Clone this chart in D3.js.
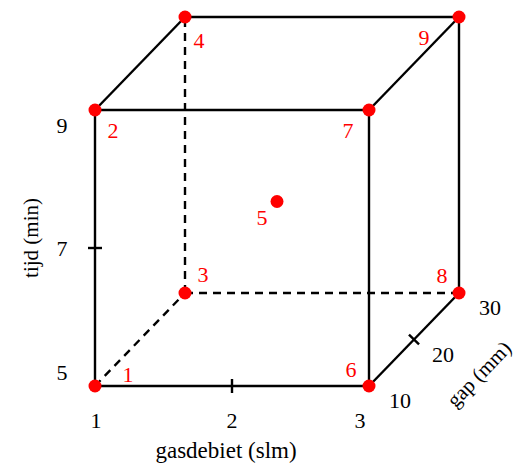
<!DOCTYPE html>
<html>
<head>
<meta charset="utf-8">
<script src="https://cdn.jsdelivr.net/npm/d3@7"></script>
<style>
	body { margin: 0; background: #fff; }
	text { font-family: "Liberation Serif", "DejaVu Serif", serif; }
</style>
</head>
<body>
<div id="chart"></div>
<script>
// design points (run number, gas flow, time, gap)
const runs = ["1", "2", "3", "4", "5", "6", "7", "8", "9"]
const gasdebiet = [1, 1, 1, 1, 2, 3, 3, 3, 3]
const tijd = [5, 9, 5, 9, 7, 5, 9, 5, 9]
const gap = [10, 10, 30, 30, 20, 10, 10, 30, 30]

const gasTicks = [1, 2, 3]
const tijdTicks = [5, 7, 9]
const gapTicks = [10, 20, 30]

// cube edges as pairs of corner indices into the arrays above
const solidEdges = [[0, 1], [0, 5], [1, 6], [5, 6], [1, 3], [3, 8], [6, 8], [8, 7], [5, 7]]
const dashedEdges = [[0, 2], [2, 3], [2, 7]]

const params = { width: 519, height: 466 }

const svg = d3.select("#chart")
	.append("svg")
	.attr("width", params.width)
	.attr("height", params.height)

const xScale = d3.scaleLinear().domain([1, 3]).range([95, 369])
const yScale = d3.scaleLinear().domain([5, 9]).range([386, 110])
// gap goes into the page: oblique projection
const depth = d3.scaleLinear().domain([10, 30]).range([0, 1])
const depthX = 90, depthY = -93

const proj = (g, t, p) => [xScale(g) + depth(p) * depthX, yScale(t) + depth(p) * depthY]
const corner = i => proj(gasdebiet[i], tijd[i], gap[i])
const sw = 2.4

// edges
svg.append("g")
	.selectAll("line")
	.data(solidEdges)
	.join("line")
	.attr("x1", d => corner(d[0])[0])
	.attr("y1", d => corner(d[0])[1])
	.attr("x2", d => corner(d[1])[0])
	.attr("y2", d => corner(d[1])[1])
	.attr("stroke", "black")
	.attr("stroke-width", sw)

svg.append("g")
	.selectAll("line")
	.data(dashedEdges)
	.join("line")
	.attr("x1", d => corner(d[0])[0])
	.attr("y1", d => corner(d[0])[1])
	.attr("x2", d => corner(d[1])[0])
	.attr("y2", d => corner(d[1])[1])
	.attr("stroke", "black")
	.attr("stroke-width", sw)
	.attr("stroke-dasharray", "8,6")

// middle ticks on each axis
const tk = 7
const [gx, gy] = proj(gasTicks[1], 5, 10)
svg.append("line").attr("x1", gx).attr("x2", gx).attr("y1", gy - tk).attr("y2", gy + tk)
	.attr("stroke", "black").attr("stroke-width", sw)
const [tx, ty] = proj(1, tijdTicks[1], 10)
svg.append("line").attr("x1", tx - tk).attr("x2", tx + tk).attr("y1", ty).attr("y2", ty)
	.attr("stroke", "black").attr("stroke-width", sw)
const [px, py] = proj(3, 5, gapTicks[1])
const len = Math.hypot(depthX, depthY)
const nx = -depthY / len * tk, ny = depthX / len * tk
svg.append("line").attr("x1", px - nx).attr("x2", px + nx).attr("y1", py - ny).attr("y2", py + ny)
	.attr("stroke", "black").attr("stroke-width", sw)

// tick labels
const fs = 22
svg.append("g")
	.selectAll("text")
	.data(gasTicks)
	.join("text")
	.attr("x", (d, i) => xScale(d) + [1, 0, -9][i])
	.attr("y", 428)
	.attr("text-anchor", "middle")
	.attr("font-size", fs)
	.text(d => d)

svg.append("g")
	.selectAll("text")
	.data(tijdTicks)
	.join("text")
	.attr("x", 62)
	.attr("y", (d, i) => yScale(d) + [-14, 0, 15][i] + 8)
	.attr("text-anchor", "middle")
	.attr("font-size", fs)
	.text(d => d)

svg.append("g")
	.selectAll("text")
	.data(gapTicks)
	.join("text")
	.attr("x", (d, i) => proj(3, 5, d)[0] + [31, 29, 31][i])
	.attr("y", d => proj(3, 5, d)[1] + 22)
	.attr("text-anchor", "middle")
	.attr("font-size", fs)
	.text(d => d)

// axis titles
svg.append("text")
	.attr("x", 226)
	.attr("y", 458)
	.attr("text-anchor", "middle")
	.attr("font-size", 23)
	.text("gasdebiet (slm)")

svg.append("text")
	.attr("transform", "translate(38, 238) rotate(-90)")
	.attr("text-anchor", "middle")
	.attr("font-size", 21)
	.text("tijd (min)")

svg.append("text")
	.attr("transform", "translate(484, 379) rotate(-46)")
	.attr("text-anchor", "middle")
	.attr("font-size", 21)
	.text("gap (mm)")

// points and run labels
const labelOffsets = [[33, -4], [18, 28], [18, -11], [14, 31], [-15, 23], [-18, -9], [-21, 28], [-17, -10], [-35, 28]]

svg.append("g")
	.selectAll("circle")
	.data(runs)
	.join("circle")
	.attr("cx", (d, i) => corner(i)[0])
	.attr("cy", (d, i) => corner(i)[1])
	.attr("r", 6.5)
	.attr("fill", "red")

svg.append("g")
	.selectAll("text")
	.data(runs)
	.join("text")
	.attr("x", (d, i) => corner(i)[0] + labelOffsets[i][0])
	.attr("y", (d, i) => corner(i)[1] + labelOffsets[i][1])
	.attr("text-anchor", "middle")
	.attr("font-size", fs)
	.attr("fill", "red")
	.text(d => d)
</script>
</body>
</html>
